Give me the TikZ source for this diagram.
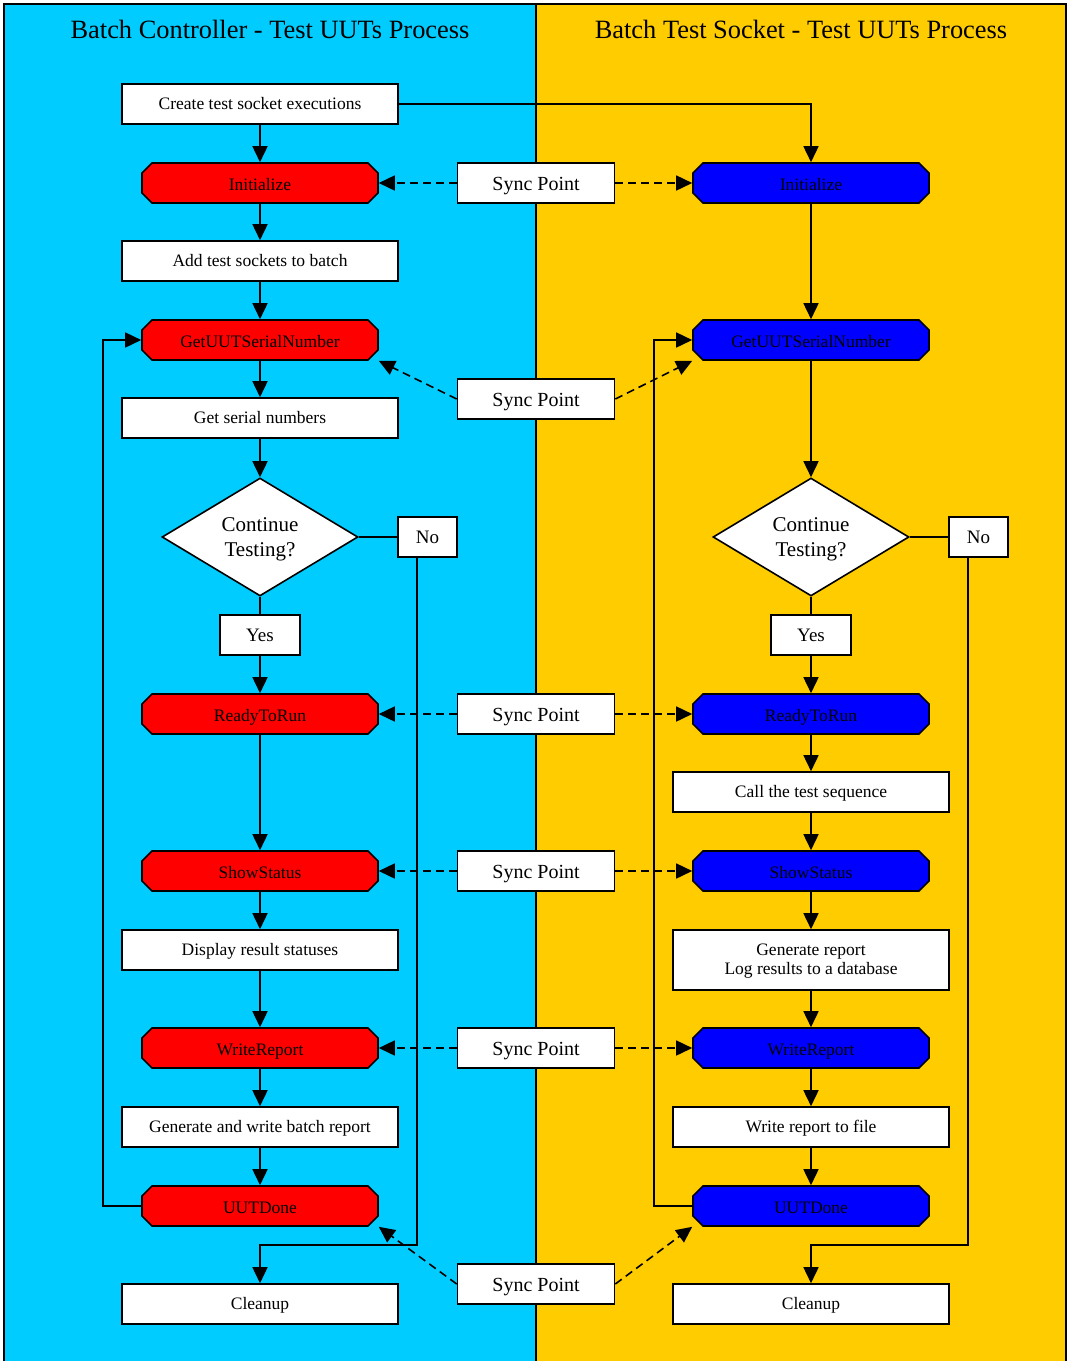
\documentclass[tikz,border=0pt]{standalone}
\usepackage{fontspec}
\setmainfont{Liberation Serif}
\usetikzlibrary{arrows.meta,shapes.geometric}

\definecolor{lanecyan}{HTML}{00CCFF}
\definecolor{lanegold}{HTML}{FFCC00}
\definecolor{ctrlred}{HTML}{FF0000}
\definecolor{sockblue}{HTML}{0000FF}

\newcommand\fsmall{\fontsize{17.5}{20}\selectfont}
\newcommand\fsync{\fontsize{20}{24}\selectfont}
\newcommand\fyesno{\fontsize{19}{22}\selectfont}
\newcommand\fdec{\fontsize{21}{25}\selectfont}
\newcommand\ftitle{\fontsize{26.4}{30}\selectfont}

% octagonal step: name, x, y, fill colour, text
\newcommand\octnode[5]{%
  \filldraw[fill=#4] (#2-108,#3-20) -- (#2+108,#3-20) -- (#2+118,#3-10) -- (#2+118,#3+10)
    -- (#2+108,#3+20) -- (#2-108,#3+20) -- (#2-118,#3+10) -- (#2-118,#3-10) -- cycle;
  \node[octtext] (#1) at (#2,#3) {#5};
}

\begin{document}
\begin{tikzpicture}[x=1pt,y=-1pt,line width=1.6pt,
  box/.style={draw, fill=white, minimum width=276pt, minimum height=40pt, inner sep=0pt, font=\fsmall, text height=10.5pt, text depth=0pt},
  twoline/.style={draw, fill=white, minimum width=276pt, minimum height=60pt, inner sep=0pt, font=\fsmall, align=center, text height=32pt, text depth=3.4pt},
  syncbox/.style={draw, fill=white, minimum width=157pt, minimum height=40pt, inner sep=0pt, font=\fsync, text height=15.4pt, text depth=0pt},
  answer/.style={draw, fill=white, minimum height=40pt, inner sep=0pt, font=\fyesno, text height=13pt, text depth=0pt},
  octtext/.style={minimum width=236pt, minimum height=40pt, inner sep=0pt, font=\fsmall, text height=15.4pt, text depth=0pt},
  decision/.style={diamond, draw, fill=white, minimum width=196pt, minimum height=118pt, inner sep=0pt, aspect=1.66, font=\fdec, align=center, text height=42pt, text depth=2.6pt},
  flow/.style={-{Triangle[length=16pt,width=15pt]}},
  sync/.style={dash pattern=on 8pt off 5pt, -{Triangle[length=16pt,width=15pt]}},
]
\useasboundingbox (0,0) rectangle (1068,1361);

% swim lanes
\fill[lanecyan] (4,4) rectangle (536,1375);
\fill[lanegold] (536,4) rectangle (1066,1375);
\draw (4,1375) -- (4,4) -- (1066,4) -- (1066,1375);
\draw (536,4) -- (536,1375);
\node[anchor=base, font=\ftitle] (T1) at (270,38) {Batch Controller - Test UUTs Process};
\node[anchor=base, font=\ftitle] (T2) at (801,38) {Batch Test Socket - Test UUTs Process};

% ---- batch controller ----
\node[box] (L1) at (260,104) {Create test socket executions};
\octnode{Li}{260}{183}{ctrlred}{Initialize}
\node[box] (L2) at (260,261) {Add test sockets to batch};
\octnode{Lg}{260}{340}{ctrlred}{GetUUTSerialNumber}
\node[box] (L3) at (260,418) {Get serial numbers};
\node[decision] (Ld) at (260,537) {Continue\\Testing?};
\node[answer, minimum width=59pt] (Lno) at (427.5,537) {No};
\node[answer, minimum width=80pt] (Lyes) at (260,635) {Yes};
\octnode{Lr}{260}{714}{ctrlred}{ReadyToRun}
\octnode{Ls}{260}{871}{ctrlred}{ShowStatus}
\node[box] (L4) at (260,950) {Display result statuses};
\octnode{Lw}{260}{1048}{ctrlred}{WriteReport}
\node[box] (L5) at (260,1127) {Generate and write batch report};
\octnode{Lu}{260}{1206}{ctrlred}{UUTDone}
\node[box] (Lc) at (260,1304) {Cleanup};

% ---- batch test socket ----
\octnode{Ri}{811}{183}{sockblue}{Initialize}
\octnode{Rg}{811}{340}{sockblue}{GetUUTSerialNumber}
\node[decision] (Rd) at (811,537) {Continue\\Testing?};
\node[answer, minimum width=59pt] (Rno) at (978.5,537) {No};
\node[answer, minimum width=80pt] (Ryes) at (811,635) {Yes};
\octnode{Rr}{811}{714}{sockblue}{ReadyToRun}
\node[box] (R1) at (811,792) {Call the test sequence};
\octnode{Rs}{811}{871}{sockblue}{ShowStatus}
\node[twoline] (R2) at (811,960) {Generate report\\[-0.7pt]Log results to a database};
\octnode{Rw}{811}{1048}{sockblue}{WriteReport}
\node[box] (R3) at (811,1127) {Write report to file};
\octnode{Ru}{811}{1206}{sockblue}{UUTDone}
\node[box] (Rc) at (811,1304) {Cleanup};

% ---- sync points ----
\node[syncbox] (S1) at (536,183) {Sync Point};
\node[syncbox] (S2) at (536,399) {Sync Point};
\node[syncbox] (S3) at (536,714) {Sync Point};
\node[syncbox] (S4) at (536,871) {Sync Point};
\node[syncbox] (S5) at (536,1048) {Sync Point};
\node[syncbox] (S6) at (536,1284) {Sync Point};

% ---- controller flow ----
\draw[flow] (L1) -- (Li);
\draw[flow] (L1.east) -| (Ri.north);
\draw[flow] (Li) -- (L2);
\draw[flow] (L2) -- (Lg);
\draw[flow] (Lg) -- (L3);
\draw[flow] (L3) -- (Ld);
\draw (Ld) -- (Lyes);
\draw[flow] (Lyes) -- (Lr);
\draw[flow] (Lr) -- (Ls);
\draw[flow] (Ls) -- (L4);
\draw[flow] (L4) -- (Lw);
\draw[flow] (Lw) -- (L5);
\draw[flow] (L5) -- (Lu);
\draw (Ld.east) -- (Lno.west);
\coordinate (Ljoin) at (260,1245);
\draw[flow] ([xshift=19.5pt]Lno.south west) |- (Ljoin) -- (Lc);
\coordinate (Lback) at (103,1206);
\draw[flow] (Lu.west) -- (Lback) |- (Lg.west);

% ---- socket flow ----
\draw[flow] (Ri) -- (Rg);
\draw[flow] (Rg) -- (Rd);
\draw (Rd) -- (Ryes);
\draw[flow] (Ryes) -- (Rr);
\draw[flow] (Rr) -- (R1);
\draw[flow] (R1) -- (Rs);
\draw[flow] (Rs) -- (R2);
\draw[flow] (R2) -- (Rw);
\draw[flow] (Rw) -- (R3);
\draw[flow] (R3) -- (Ru);
\draw (Rd.east) -- (Rno.west);
\coordinate (Rjoin) at (811,1245);
\draw[flow] ([xshift=19.5pt]Rno.south west) |- (Rjoin) -- (Rc);
\coordinate (Rback) at (654,1206);
\draw[flow] (Ru.west) -- (Rback) |- (Rg.west);

% ---- synchronisation ----
\draw[sync] (S1.west) -- (Li.east);
\draw[sync] (S1.east) -- (Ri.west);
\draw[sync] (S2.west) -- (Lg.south east);
\draw[sync] (S2.east) -- (Rg.south west);
\draw[sync] (S3.west) -- (Lr.east);
\draw[sync] (S3.east) -- (Rr.west);
\draw[sync] (S4.west) -- (Ls.east);
\draw[sync] (S4.east) -- (Rs.west);
\draw[sync] (S5.west) -- (Lw.east);
\draw[sync] (S5.east) -- (Rw.west);
\draw[sync] (S6.west) -- (Lu.south east);
\draw[sync] (S6.east) -- (Ru.south west);
\end{tikzpicture}
\end{document}
